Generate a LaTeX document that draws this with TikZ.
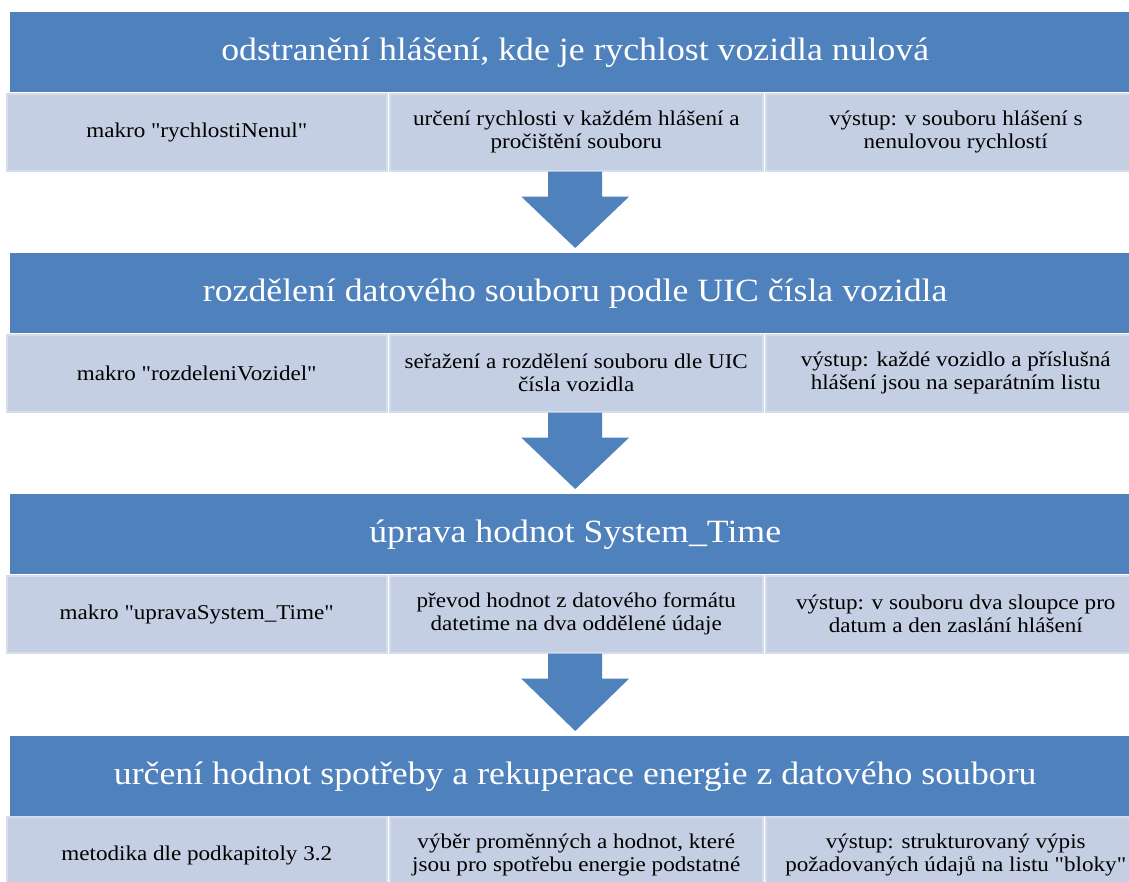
\documentclass[tikz,border=0pt]{standalone}
\usepackage{fontspec}
\setmainfont{Liberation Serif}[FakeStretch=1.1, Ligatures=TeXOff]
\usetikzlibrary{positioning,calc}
\definecolor{headFill}{HTML}{4F81BD}
\definecolor{subFill}{HTML}{C4CFE3}
\definecolor{subStroke}{HTML}{D5DCEA}

\begin{document}
\begin{tikzpicture}[
  x=1pt, y=-1pt,
  head/.style ={fill=headFill, text=white, minimum width=1130pt, minimum height=80pt, inner sep=0pt, anchor=north west, font=\fontsize{32.5}{38}\selectfont},
  sub/.style  ={fill=subFill, draw=subStroke, line width=1.5pt, minimum height=77pt, inner sep=0pt, align=center, font=\fontsize{21}{23}\selectfont},
  subA/.style ={sub, minimum width=380pt, anchor=north west},
  subB/.style ={sub, minimum width=373pt},
  subC/.style ={sub, minimum width=380pt},
  blockarr/.style={fill=headFill},
]
\useasboundingbox (0,0) rectangle (1129,881);
\clip (0,0) rectangle (1129,881);

% ==================== Step 1 ====================
\node[head] (h1) at (10,12) {odstranění hlášení, kde je rychlost vozidla nulová};
\node[subA] (s1-a) at (6,93) {makro "rychlostiNenul"};
\node[subB, right=1.5pt of s1-a] (s1-b) {určení rychlosti v každém hlášení a\\pročištění souboru};
\node[subC, right=1.5pt of s1-b] (s1-c) {výstup: v souboru hlášení s\\nenulovou rychlostí};

% ==================== Step 2 ====================
\node[head] (h2) at (10,253) {rozdělení datového souboru podle UIC čísla vozidla};
\node[subA] (s2-a) at (6,334) {makro "rozdeleniVozidel"};
\node[subB, right=1.5pt of s2-a] (s2-b) {seřažení a rozdělení souboru dle UIC\\čísla vozidla};
\node[subC, right=1.5pt of s2-b] (s2-c) {výstup: každé vozidlo a příslušná\\hlášení jsou na separátním listu};

% ==================== Step 3 ====================
\node[head] (h3) at (10,494) {úprava hodnot System\_Time};
\node[subA] (s3-a) at (6,575) {makro "upravaSystem\_Time"};
\node[subB, right=1.5pt of s3-a] (s3-b) {převod hodnot z datového formátu\\datetime na dva oddělené údaje};
\node[subC, right=1.5pt of s3-b] (s3-c) {výstup: v souboru dva sloupce pro\\datum a den zaslání hlášení};

% ==================== Step 4 ====================
\node[head] (h4) at (10,736) {určení hodnot spotřeby a rekuperace energie z datového souboru};
\node[subA] (s4-a) at (6,816) {metodika dle podkapitoly 3.2};
\node[subB, right=1.5pt of s4-a] (s4-b) {výběr proměnných a hodnot, které\\jsou pro spotřebu energie podstatné};
\node[subC, right=1.5pt of s4-b] (s4-c) {výstup: strukturovaný výpis\\požadovaných údajů na listu "bloky"};

% ==================== Block arrows ====================
\foreach \a/\b in {1/2,2/3,3/4}{
  \path (h\b.north |- s\a-b.south) coordinate (t\a)
        (h\b.north) ++(0,-5) coordinate (p\a);
  \fill[blockarr] ($(t\a)+(-27,0)$) -- ($(t\a)+(27,0)$) -- ($(t\a)+(27,25)$) -- ($(t\a)+(54,25)$)
    -- (p\a) -- ($(t\a)+(-54,25)$) -- ($(t\a)+(-27,25)$) -- cycle;
}

\end{tikzpicture}
\end{document}
